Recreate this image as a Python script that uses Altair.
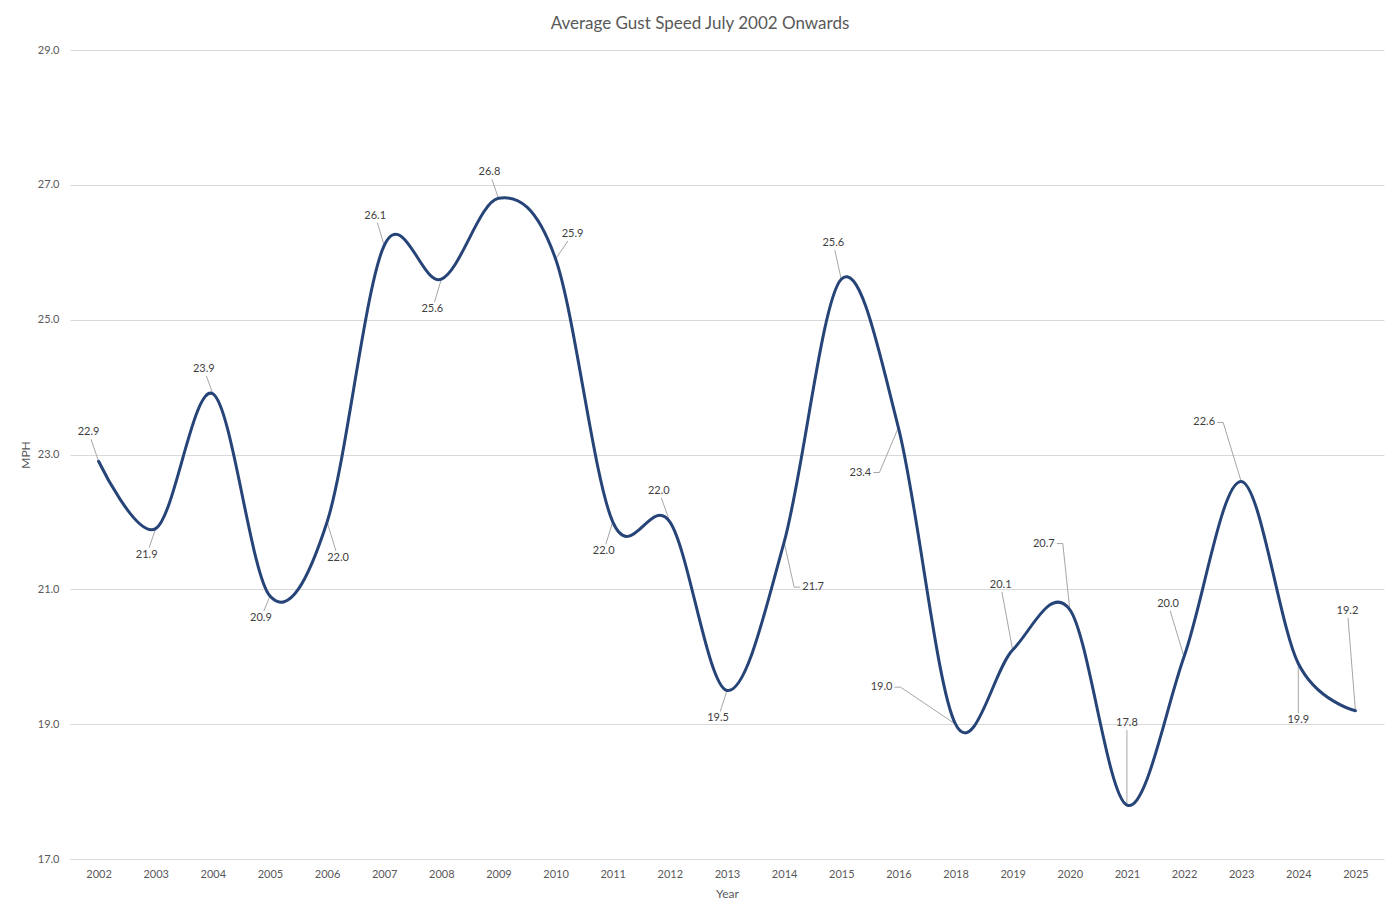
import altair as alt
import pandas as pd

# ---- data ----
years = ["2002", "2003", "2004", "2005", "2006", "2007", "2008", "2009", "2010",
         "2011", "2012", "2013", "2014", "2015", "2016", "2018", "2019", "2020",
         "2021", "2022", "2023", "2024", "2025"]
gust_mph = [22.9, 21.9, 23.9, 20.9, 22.0, 26.1, 25.6, 26.8, 25.9, 22.0, 22.0, 19.5,
            21.7, 25.6, 23.4, 19.0, 20.1, 20.7, 17.8, 20.0, 22.6, 19.9, 19.2]

# data-label placement (pixel offsets of the label centre from its point)
label_dx = [-10, -9, -9, -9, 11, -9, -9, -9, 17, -9, -11, -9, 29, -8, -38, -74, -12, -26, 0, -16, -37, 0, -8]
label_dy = [-29, 26, -25, 22, 36, -30, 30, -26, -25, 29, -31, 28, 45, -36, 45, -37, -65, -66, -82, -53, -59, 57, -100]
leader_elbow = [0, 0, 0, 0, 0, 0, 0, 0, 0, 0, 0, 0, 1, 0, 1, 1, 0, 1, 0, 0, 1, 0, 0]

y_ticks = [17, 19, 21, 23, 25, 27, 29]
Y_MIN, Y_MAX = 17, 29

# ---- geometry ----
W, H = 1314, 809
n = len(years)
ux = W / n
uy = H / (Y_MAX - Y_MIN)


def to_data(px, py):
    return px / ux - 0.5, Y_MAX - py / uy


line_df = pd.DataFrame({"idx": list(range(n)), "year": years, "mph": gust_mph})

labels, leaders = [], []
HW, HH = 12, 7
for i, v in enumerate(gust_mph):
    Px, Py = (i + 0.5) * ux, (Y_MAX - v) * uy
    Lx, Ly = Px + label_dx[i], Py + label_dy[i]
    lx, ly = to_data(Lx, Ly)
    labels.append({"lx": lx, "ly": ly, "text": f"{v:.1f}"})
    if leader_elbow[i]:
        side = 1 if Px > Lx else -1
        sx0 = Lx + side * (HW + 1)
        sx1 = sx0 + side * 6
        segs = [((sx0, Ly), (sx1, Ly)), ((sx1, Ly), (Px, Py))]
    else:
        ddx, ddy = Px - Lx, Py - Ly
        cand = []
        if ddx:
            cand.append(HW / abs(ddx))
        if ddy:
            cand.append(HH / abs(ddy))
        s = min(cand)
        segs = [((Lx + s * ddx, Ly + s * ddy), (Px, Py))]
    for (a, b) in segs:
        x1, y1 = to_data(*a)
        x2, y2 = to_data(*b)
        leaders.append({"x1": x1, "y1": y1, "x2": x2, "y2": y2})

label_df = pd.DataFrame(labels)
leader_df = pd.DataFrame(leaders)

FONT = "Lato"
GREY = "#595959"

label_expr = "[" + ",".join(f"'{y}'" for y in years) + "][datum.value]"

x_scale = alt.Scale(domain=[-0.5, n - 0.5], nice=False, zero=False)
y_scale = alt.Scale(domain=[Y_MIN, Y_MAX], nice=False, zero=False)

x_enc = alt.X(
    "idx:Q", scale=x_scale,
    axis=alt.Axis(values=list(range(n)), labelExpr=label_expr, title="Year",
                  grid=False, domain=False, ticks=False, labelPadding=9,
                  labelFontSize=11, labelColor=GREY, labelFont=FONT,
                  titleFont=FONT, titleFontSize=12, titleFontWeight="normal",
                  titleColor=GREY, titlePadding=9, labelFlush=False),
)
y_enc = alt.Y(
    "mph:Q", scale=y_scale,
    axis=alt.Axis(values=y_ticks, format=".1f", title="MPH", grid=True,
                  gridColor="#d9d9d9", gridWidth=1, domain=False, ticks=False,
                  labelPadding=11, labelFontSize=11, labelColor=GREY,
                  labelFont=FONT, titleFont=FONT, titleFontSize=12,
                  titleFontWeight="normal", titleColor=GREY, titlePadding=5),
)

line = alt.Chart(line_df).mark_line(
    interpolate="cardinal", tension=0, strokeWidth=3, color="#264478",
    strokeCap="round",
).encode(x=x_enc, y=y_enc)

rules = alt.Chart(leader_df).mark_rule(color="#a6a6a6", strokeWidth=1).encode(
    x=alt.X("x1:Q", scale=x_scale),
    y=alt.Y("y1:Q", scale=y_scale),
    x2="x2:Q",
    y2="y2:Q",
)

texts = alt.Chart(label_df).mark_text(
    font=FONT, fontSize=11, color="#404040", align="center", baseline="middle",
).encode(
    x=alt.X("lx:Q", scale=x_scale),
    y=alt.Y("ly:Q", scale=y_scale),
    text="text:N",
)

chart = alt.layer(rules, line, texts).properties(
    width=W, height=H,
    background="white",
    title=alt.TitleParams("Average Gust Speed July 2002 Onwards", font=FONT,
                          fontSize=17, fontWeight="normal", color=GREY,
                          anchor="middle", dx=-27, offset=11),
    autosize=alt.AutoSizeParams(type="none"),
    padding={"left": 62, "top": 42, "right": 7, "bottom": 45},
).configure_view(stroke="transparent", strokeWidth=0)

chart.save("out.html", embed_options={"renderer": "svg", "actions": False})
